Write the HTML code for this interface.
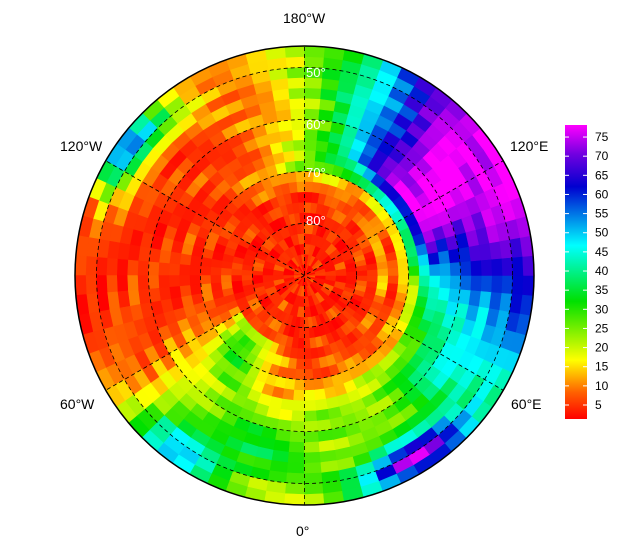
<!DOCTYPE html>
<html><head><meta charset="utf-8"><style>
body{margin:0;background:#fff;width:625px;height:552px;overflow:hidden;font-family:"Liberation Sans",sans-serif}
svg{position:absolute;left:0;top:0}
</style></head><body>
<svg id="s" width="625" height="552" xmlns="http://www.w3.org/2000/svg">
<defs>
<linearGradient id="cb" x1="0" y1="1" x2="0" y2="0">
<stop offset="0" stop-color="#ff0000"/>
<stop offset="0.09" stop-color="#ff6000"/>
<stop offset="0.2" stop-color="#ffff00"/>
<stop offset="0.4" stop-color="#00e000"/>
<stop offset="0.59" stop-color="#00ffff"/>
<stop offset="0.79" stop-color="#0000d0"/>
<stop offset="0.9" stop-color="#7000e0"/>
<stop offset="1" stop-color="#ff00ff"/>
</linearGradient>
<clipPath id="cp"><circle cx="304.5" cy="275.5" r="229.5"/></clipPath>
</defs>
<g id="cells" clip-path="url(#cp)"></g>
<g fill="none" stroke="#000" stroke-width="0.8" stroke-dasharray="4,3" clip-path="url(#cp)">
<circle cx="304.5" cy="275.5" r="52"/><circle cx="304.5" cy="275.5" r="104"/>
<circle cx="304.5" cy="275.5" r="156"/><circle cx="304.5" cy="275.5" r="208"/>
<line x1="304.5" y1="40" x2="304.5" y2="510"/>
<line x1="101" y1="158" x2="508" y2="393"/>
<line x1="101" y1="393" x2="508" y2="158"/>
</g>
<circle cx="304.5" cy="275.5" r="229.5" fill="none" stroke="#000" stroke-width="1.5"/>
<g fill="#fff" font-size="13"><text x="306" y="77">50°</text><text x="306" y="129">60°</text><text x="306" y="177">70°</text><text x="306" y="225">80°</text></g>
<g font-size="14" fill="#000">
<text x="283" y="23">180°W</text><text x="60" y="151">120°W</text><text x="510" y="151">120°E</text>
<text x="60" y="409">60°W</text><text x="511" y="409">60°E</text><text x="296" y="536">0°</text>
</g>
<rect x="565" y="125" width="22" height="294" fill="url(#cb)"/>
<g id="cbt" font-size="12" fill="#000"></g>
</svg>
<script>
var cx=304.5,cy=275.5;
function col(v){var st=[[0,255,0,0],[8,255,96,0],[16,255,255,0],[31,0,224,0],[46,0,255,255],[62,0,0,208],[70,112,0,224],[78,255,0,255]];
v=Math.max(0,Math.min(78,v));for(var i=1;i<st.length;i++){if(v<=st[i][0]){var a=st[i-1],b=st[i],t=(v-a[0])/(b[0]-a[0]);
return "rgb("+Math.round(a[1]+t*(b[1]-a[1]))+","+Math.round(a[2]+t*(b[2]-a[2]))+","+Math.round(a[3]+t*(b[3]-a[3]))+")";}}return "#f0f";}
function g(x,m,s){return Math.exp(-(x-m)*(x-m)/(2*s*s));}
function ad(a,b){return ((a-b)%360+540)%360-180;}
function val(lat,lon){
 var v=4;
 var d=ad(lon,125);
 var sw=d<0?36+Math.min(20,Math.max(0,(62-lat))*1.4):32;
 var sib=g(d,0,sw)*Math.min(1,Math.max(0,(72-lat)/6));
 v+=74*sib;
 v+=14*g(ad(lon,20),0,20)*g(lat,63,5);
 v+=52*g(ad(lon,30),0,12)*g(lat,49,3);
 v+=24*g(ad(lon,-40),0,14)*g(lat,71,6);
 v+=28*g(ad(lon,-20),0,22)*g(lat,55,6);
 v+=35*g(ad(lon,-38),0,10)*g(lat,48,3);
 v+=20*g(ad(lon,55),0,15)*g(lat,60,5);
 v+=10*g(lat,70,2)*g(ad(lon,-175),0,20);
 v+=48*g(ad(lon,-125),0,9)*g(lat,48,3);
 v+=10*g(ad(lon,-140),0,12)*g(lat,50,3);
 v+=8*g(lat,76,2)*g(ad(lon,110),0,40);
 if(lat>76)v=v*0.3+2;
 var n=Math.sin(lat*0.9+lon*0.11)*Math.cos(lon*0.07-lat*0.5)*4+Math.sin(lat*1.7+lon*0.23)*2;
 return v+n;
}
var G=document.getElementById("cells"),h="";
function P(r,a){return (cx+r*Math.sin(a)).toFixed(1)+","+(cy+r*Math.cos(a)).toFixed(1);}
for(var lat=44;lat<90;lat+=2){var r1=(90-lat)*5.2,r0=Math.max(0,(88-lat)*5.2);
 var dl=lat>80?10:5;
 for(var lon=-180;lon<180;lon+=dl){
  var a0=lon*Math.PI/180,a1=(lon+dl)*Math.PI/180;
  var c=col(val(lat+1,lon+dl/2));
  h+='<polygon points="'+P(r1,a0)+" "+P(r1,a1)+" "+P(r0,a1)+" "+P(r0,a0)+'" fill="'+c+'" stroke="'+c+'" stroke-width="0.6"/>';
 }}
G.innerHTML=h;
var T=document.getElementById("cbt"),t="";
for(var k=5;k<=75;k+=5){var y=405-(k-5)*3.828;
 t+='<line x1="565" y1="'+y+'" x2="569" y2="'+y+'" stroke="#fff"/><line x1="583" y1="'+y+'" x2="587" y2="'+y+'" stroke="#fff"/><text x="595" y="'+(y+4)+'">'+k+'</text>';}
T.innerHTML=t;
</script>
</body></html>
